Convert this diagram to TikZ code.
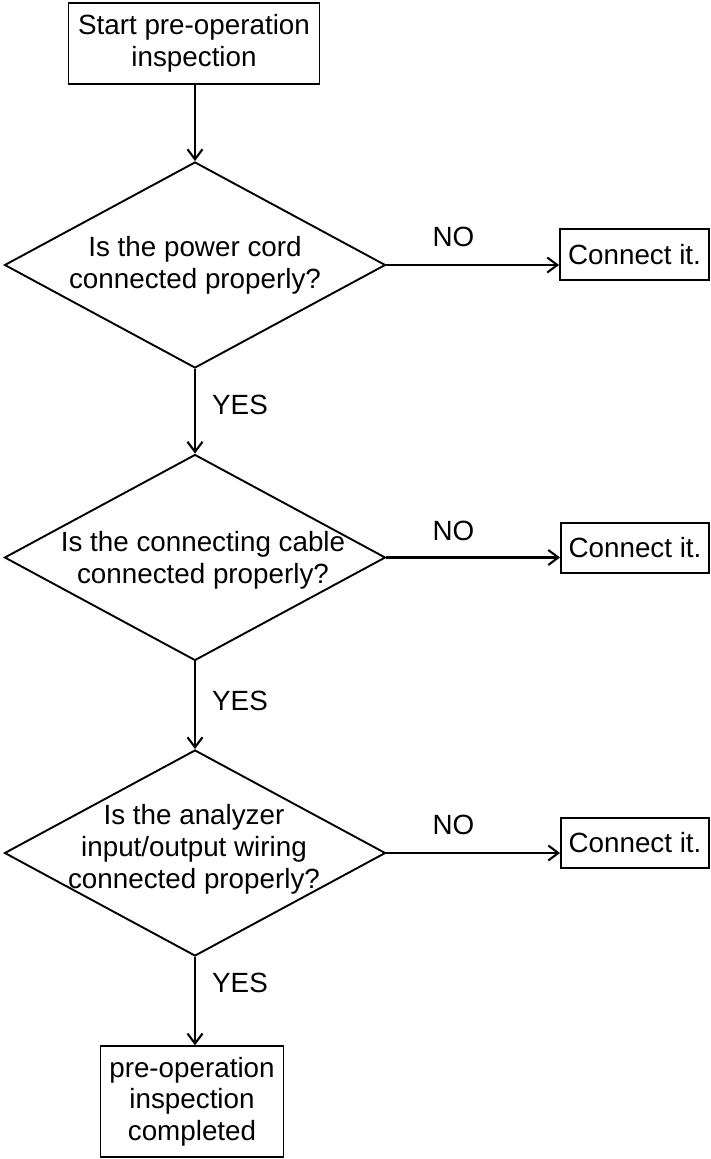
\documentclass[tikz,border=0pt]{standalone}
\usepackage{fontspec}
\setmainfont{Liberation Sans}
\usetikzlibrary{shapes.geometric,arrows.meta}
\tikzset{
  base/.style={font=\fontsize{27.8}{31.7}\selectfont, align=center},
  box/.style={base, draw, line width=1.9pt, inner sep=0pt},
  dec/.style={draw, diamond, line width=1.9pt, inner sep=0pt, minimum width=381pt, minimum height=206pt},
  dtext/.style={base, inner sep=0pt},
  lbl/.style={base, inner sep=0pt},
  arr/.style={line width=2.1pt, -{Straight Barb[length=10pt,width=15pt,line width=2.1pt]}}
}
\begin{document}
\begin{tikzpicture}[x=1pt,y=-1pt]
\useasboundingbox (0,0) rectangle (711,1159);
% start box
\node[box, minimum width=251pt, minimum height=81pt] (start) at (194,43.5) {Start pre-operation\\inspection};
% diamonds
\node[dec] (d1) at (195,265) {};
\node[dtext] (t1) at (195,265) {Is the power cord\\connected properly?};
\node[dec] (d2) at (195,557.5) {};
\node[dtext] (t2) at (203,560) {Is the connecting cable\\connected properly?};
\node[dec] (d3) at (195,853) {};
\node[dtext] (t3) at (194,849.5) {Is the analyzer\\input/output wiring\\connected properly?};
% connect boxes
\node[box, minimum width=149pt, minimum height=51pt] (c1) at (634.5,254.5) {Connect it.};
\node[box, minimum width=148pt, minimum height=50pt] (c2) at (635,548) {Connect it.};
\node[box, minimum width=148pt, minimum height=50pt] (c3) at (635,843) {Connect it.};
% end box
\node[box, minimum width=183pt, minimum height=111pt] (end) at (192,1101.75) {pre-operation\\inspection\\completed};
% labels
\node[lbl] (no1) at (453.5,236.5) {NO};
\node[lbl] (no2) at (453.5,530.5) {NO};
\node[lbl] (no3) at (453.5,825) {NO};
\node[lbl] (yes1) at (240,405) {YES};
\node[lbl] (yes2) at (240,700.5) {YES};
\node[lbl] (yes3) at (240,983) {YES};
% connectors
\draw[arr] (d1.north |- start.south) -- (d1.north);
\draw[arr] (d1.south) -- (d2.north);
\draw[arr] (d2.south) -- (d3.north);
\draw[arr] (d3.south) -- (d3.south |- end.north);
\draw[arr] (d1.east) -- (d1.east -| c1.west);
\draw[arr] (d2.east) -- (d2.east -| c2.west);
\draw[arr] (d3.east) -- (d3.east -| c3.west);
\end{tikzpicture}
\end{document}
